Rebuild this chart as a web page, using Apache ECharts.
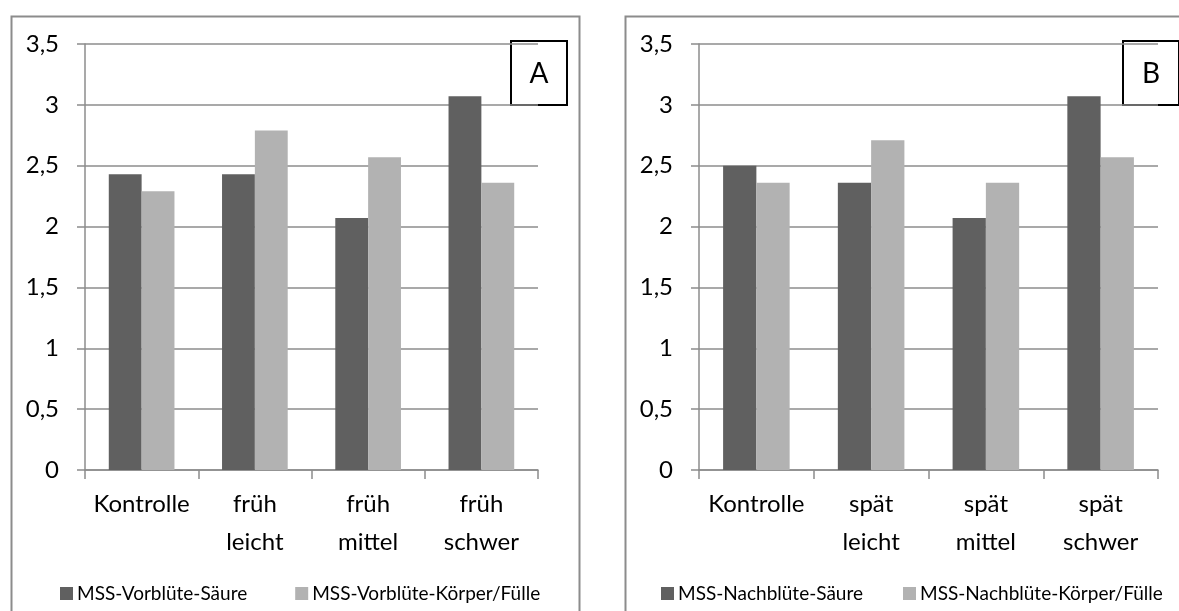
<!DOCTYPE html>
<html>
<head>
<meta charset="utf-8">
<script src="https://cdn.jsdelivr.net/npm/echarts@6/dist/echarts.min.js"></script>
<style>
  html, body { margin: 0; padding: 0; background: #fff; }
  #chart { width: 1179px; height: 611px; }
</style>
</head>
<body>
<div id="chart"></div>
<script>
// categories
const catsA = ['Kontrolle', 'früh\nleicht', 'früh\nmittel', 'früh\nschwer'];
const catsB = ['Kontrolle', 'spät\nleicht', 'spät\nmittel', 'spät\nschwer'];
// series names
const namesA = ['MSS-Vorblüte-Säure', 'MSS-Vorblüte-Körper/Fülle'];
const namesB = ['MSS-Nachblüte-Säure', 'MSS-Nachblüte-Körper/Fülle'];
// values
const saeureA = [2.43, 2.43, 2.07, 3.07];
const koerperA = [2.29, 2.79, 2.57, 2.36];
const saeureB = [2.50, 2.36, 2.07, 3.07];
const koerperB = [2.36, 2.71, 2.36, 2.57];
const yTicks = [0, 0.5, 1, 1.5, 2, 2.5, 3, 3.5];

const FONT = 'Lato';
const grey = '#8c8c8c';
const dark = '#606060';
const light = '#b2b2b2';

function yAxis(gridIndex) {
  return {
    type: 'value', gridIndex: gridIndex,
    min: yTicks[0], max: yTicks[yTicks.length - 1], interval: 0.5,
    axisLine: { show: true, lineStyle: { color: grey, width: 1.5 } },
    axisTick: { show: true, length: 8, lineStyle: { color: grey, width: 1.5 } },
    axisLabel: {
      margin: 26, color: '#000', fontSize: 24, fontFamily: FONT,
      formatter: v => String(v).replace('.', ',')
    },
    splitLine: { show: true, lineStyle: { color: grey, width: 1.5 } }
  };
}

function xAxis(gridIndex, cats) {
  return {
    type: 'category', gridIndex: gridIndex, data: cats,
    axisLine: { show: true, lineStyle: { color: grey, width: 1.5 } },
    axisTick: { show: true, length: 9, alignWithLabel: false, lineStyle: { color: grey, width: 1.5 } },
    axisLabel: {
      margin: 15, color: '#000', fontSize: 24, lineHeight: 38, fontFamily: FONT,
      interval: 0, verticalAlign: 'top'
    }
  };
}

function bar(name, data, axis, color) {
  return {
    name: name, type: 'bar', data: data,
    xAxisIndex: axis, yAxisIndex: axis,
    barGap: '0%', barCategoryGap: '42%',
    itemStyle: { color: color },
    emphasis: { disabled: true }
  };
}

function legend(names, left, gap) {
  return {
    data: names, left: left, top: 579,
    icon: 'rect', itemWidth: 13, itemHeight: 13, itemGap: gap,
    textStyle: { color: '#000', fontSize: 19, fontFamily: FONT, padding: [0, 0, 0, -1] },
    selectedMode: false
  };
}

function box(x, label) {
  return {
    type: 'group', left: x, top: 40,
    children: [
      { type: 'rect', shape: { x: 0, y: 0, width: 56, height: 64 },
        style: { fill: '#fff', stroke: '#000', lineWidth: 2 } },
      { type: 'text', x: 28, y: 33,
        style: { text: label, fontSize: 28, fontFamily: FONT, fill: '#000', align: 'center', verticalAlign: 'middle' } }
    ]
  };
}

const option = {
  animation: false,
  backgroundColor: '#fff',
  grid: [
    { left: 85, top: 44, width: 453, height: 426 },
    { left: 699, top: 44, width: 459, height: 426 }
  ],
  xAxis: [xAxis(0, catsA), xAxis(1, catsB)],
  yAxis: [yAxis(0), yAxis(1)],
  legend: [legend(namesA, 55, 48), legend(namesB, 656, 40)],
  series: [
    bar(namesA[0], saeureA, 0, dark),
    bar(namesA[1], koerperA, 0, light),
    bar(namesB[0], saeureB, 1, dark),
    bar(namesB[1], koerperB, 1, light)
  ],
  graphic: [
    { type: 'rect', left: 9, top: 14, shape: { width: 568, height: 700 },
      style: { fill: 'none', stroke: grey, lineWidth: 2 }, silent: true, z: -1 },
    { type: 'rect', left: 623, top: 14, shape: { width: 600, height: 700 },
      style: { fill: 'none', stroke: grey, lineWidth: 2 }, silent: true, z: -1 },
    box(510, 'A'),
    box(1122, 'B')
  ]
};

const myChart = echarts.init(document.getElementById('chart'));
myChart.setOption(option);
window.addEventListener('resize', function () {
  myChart.resize();
});
</script>
</body>
</html>
